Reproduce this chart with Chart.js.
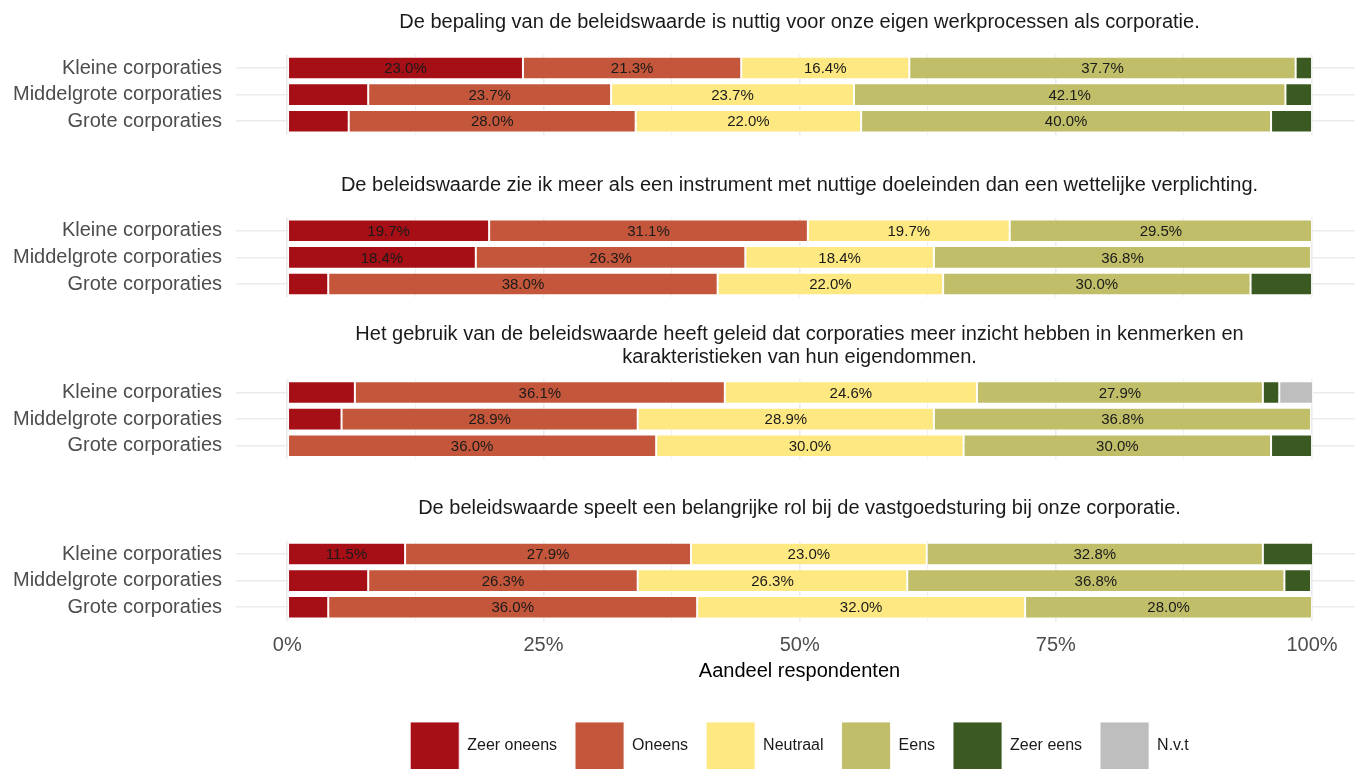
<!DOCTYPE html>
<html>
<head>
<meta charset="utf-8">
<script src="https://cdn.jsdelivr.net/npm/chart.js@4.4.1/dist/chart.umd.min.js"></script>
<style>
  html, body { margin: 0; padding: 0; background: #ffffff; }
  body { width: 1355px; height: 769px; overflow: hidden; position: relative; }
  canvas { position: absolute; left: 0; }
</style>
</head>
<body>
<canvas id="panel0"></canvas>
<canvas id="panel1"></canvas>
<canvas id="panel2"></canvas>
<canvas id="panel3"></canvas>
<script>
// data: percentages per group, columns follow the answer order
const groups = ['Kleine corporaties', 'Middelgrote corporaties', 'Grote corporaties'];
const answers = ['Zeer oneens', 'Oneens', 'Neutraal', 'Eens', 'Zeer eens', 'N.v.t'];
const answerColors = ['#A50F15', '#C4573B', '#FDE882', '#C0BE68', '#3A5A22', '#BEBEBE'];

const statements = [
    ['De bepaling van de beleidswaarde is nuttig voor onze eigen werkprocessen als corporatie.'],
    ['De beleidswaarde zie ik meer als een instrument met nuttige doeleinden dan een wettelijke verplichting.'],
    ['Het gebruik van de beleidswaarde heeft geleid dat corporaties meer inzicht hebben in kenmerken en',
        'karakteristieken van hun eigendommen.'],
    ['De beleidswaarde speelt een belangrijke rol bij de vastgoedsturing bij onze corporatie.']
];

const nuttigWerkprocessen = [
    [23.0, 21.3, 16.4, 37.7, 1.6, 0],
    [7.9, 23.7, 23.7, 42.1, 2.6, 0],
    [6.0, 28.0, 22.0, 40.0, 4.0, 0]
];
const instrumentVerplichting = [
    [19.7, 31.1, 19.7, 29.5, 0, 0],
    [18.4, 26.3, 18.4, 36.8, 0, 0],
    [4.0, 38.0, 22.0, 30.0, 6.0, 0]
];
const inzichtKenmerken = [
    [6.6, 36.1, 24.6, 27.9, 1.6, 3.3],
    [5.3, 28.9, 28.9, 36.8, 0, 0],
    [0, 36.0, 30.0, 30.0, 4.0, 0]
];
const vastgoedsturing = [
    [11.5, 27.9, 23.0, 32.8, 4.9, 0],
    [7.9, 26.3, 26.3, 36.8, 2.6, 0],
    [4.0, 36.0, 32.0, 28.0, 0, 0]
];
const panelData = [nuttigWerkprocessen, instrumentVerplichting, inzichtKenmerken, vastgoedsturing];

const xTicks = [0, 12.5, 25, 37.5, 50, 62.5, 75, 87.5, 100];

// page layout (pixels)
const titleY = [22, 185, 334, 508];
const areaTop = [54.7, 217.5, 379.2, 540.7];
const ROW = 26.6;
const LINE = 23;
const CANVAS_W = 1599;   // wider than the page so titles centre on the panel
const AXIS_W = 236;

Chart.defaults.font.family = '"Liberation Sans", Arial, sans-serif';
Chart.defaults.color = '#4d4d4d';

// percentage labels in the middle of the wider segments
const barLabels = {
    id: 'barLabels',
    afterDatasetsDraw(chart) {
        const ctx = chart.ctx;
        ctx.save();
        ctx.font = '15px "Liberation Sans", Arial, sans-serif';
        ctx.fillStyle = '#1a1a1a';
        ctx.textAlign = 'center';
        ctx.textBaseline = 'middle';
        chart.data.datasets.forEach((ds, i) => {
            chart.getDatasetMeta(i).data.forEach((bar, j) => {
                const v = ds.data[j];
                if (v == null || v < 10) return;
                const p = bar.getProps(['x', 'y', 'base'], true);
                ctx.fillText(v.toFixed(1) + '%', (p.x + p.base) / 2, p.y + 1);
            });
        });
        ctx.restore();
    }
};

function makePanel(i) {
    const last = i === panelData.length - 1;
    const lines = statements[i].length;
    const top = Math.round(titleY[i] - LINE / 2 - 6);
    const areaH = ROW * groups.length;
    const height = last ? 780 - top : Math.round(areaTop[i] + areaH + 30 - top);
    const titlePadBottom = areaTop[i] - (top + 6 + lines * LINE);

    const canvas = document.getElementById('panel' + i);
    canvas.width = CANVAS_W;
    canvas.height = height;
    canvas.style.top = top + 'px';

    const datasets = answers.map((a, k) => ({
        label: a,
        data: panelData[i].map(row => row[k] === 0 ? null : row[k]),
        backgroundColor: answerColors[k],
        borderColor: 'rgba(255,255,255,0.85)',
        borderWidth: 1,
        borderSkipped: false,
        barPercentage: 0.85,
        categoryPercentage: 1
    }));

    new Chart(canvas, {
        type: 'bar',
        data: { labels: groups, datasets: datasets },
        options: {
            indexAxis: 'y',
            responsive: false,
            animation: false,
            events: [],
            layout: { padding: { top: 0, left: 0, right: 0, bottom: last ? 0 : height - (areaTop[i] - top + areaH) } },
            scales: {
                x: {
                    type: 'linear',
                    stacked: true,
                    min: -5,
                    max: 128,
                    afterBuildTicks: scale => { scale.ticks = xTicks.map(v => ({ value: v })); },
                    afterFit: scale => { scale.height = last ? 36.5 : 0; },
                    grid: {
                        color: '#ebebeb',
                        lineWidth: ctx => (ctx.tick && ctx.tick.value % 25 === 0) ? 1.6 : 0.8,
                        drawTicks: false
                    },
                    border: { display: false },
                    ticks: {
                        display: last,
                        padding: 12.5,
                        font: { size: 20 },
                        color: '#4d4d4d',
                        callback: v => v % 25 === 0 ? v + '%' : ''
                    }
                },
                y: {
                    type: 'category',
                    stacked: true,
                    afterFit: scale => { scale.width = AXIS_W; },
                    grid: { color: '#ebebeb', lineWidth: 1.6, offset: false, drawTicks: false },
                    border: { display: false },
                    ticks: { autoSkip: false, padding: 14, font: { size: 20 }, color: '#4d4d4d' }
                }
            },
            plugins: {
                tooltip: { enabled: false },
                title: {
                    display: true,
                    text: statements[i],
                    color: '#1a1a1a',
                    font: { size: 20, weight: 'normal', lineHeight: LINE + 'px' },
                    padding: { top: 6, bottom: titlePadBottom }
                },
                subtitle: {
                    display: last,
                    position: 'bottom',
                    weight: 500,
                    text: 'Aandeel respondenten',
                    color: '#000000',
                    font: { size: 20, lineHeight: '24px' },
                    padding: { top: 2, bottom: 21 }
                },
                legend: {
                    display: last,
                    position: 'bottom',
                    labels: {
                        boxWidth: 49,
                        boxHeight: 48,
                        padding: 18,
                        color: '#1a1a1a',
                        font: { size: 16 }
                    }
                }
            }
        },
        plugins: [barLabels]
    });
}

panelData.forEach((d, i) => makePanel(i));
</script>
</body>
</html>
